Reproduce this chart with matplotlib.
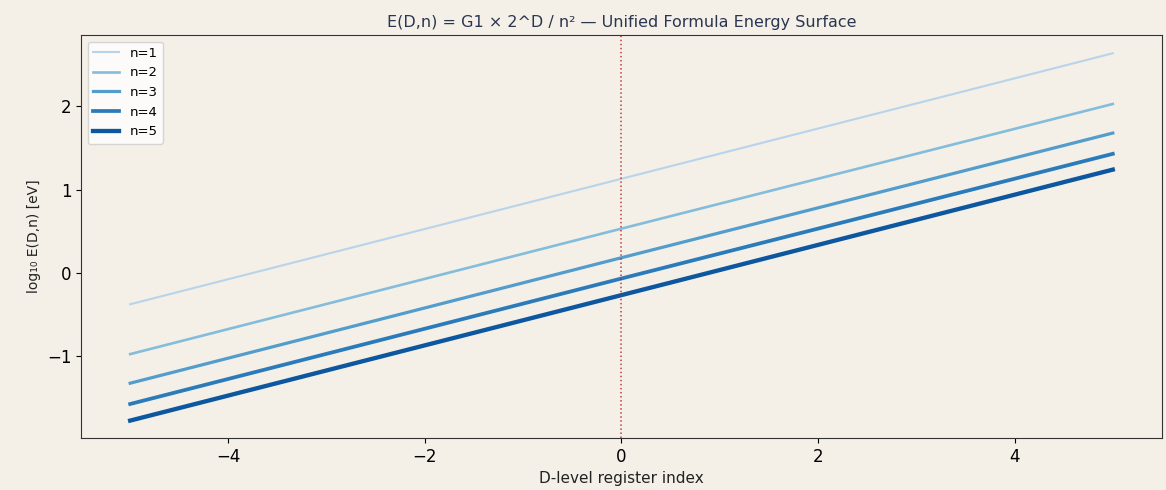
import matplotlib
matplotlib.use("Agg")
import matplotlib.pyplot as plt
import numpy as np

# values (log10 E at D = -5, 0, 5)
d_levels = [-5, 0, 5]
n_labels = ["n=1", "n=2", "n=3", "n=4", "n=5"]
log_e = [
    [-0.38, 1.13, 2.64],
    [-0.98, 0.53, 2.03],
    [-1.33, 0.18, 1.68],
    [-1.58, -0.07, 1.43],
    [-1.78, -0.27, 1.24],
]

bg = "#f4f0e8"
fig = plt.figure(figsize=(11.66, 4.9), dpi=100, facecolor=bg)
ax = fig.add_axes([0.0695, 0.106, 0.927, 0.8226])
ax.set_facecolor(bg)

cmap = plt.get_cmap("Blues")
shades = np.linspace(0.3, 0.85, len(n_labels))
for i, (lab, vals) in enumerate(zip(n_labels, log_e)):
    ax.plot(d_levels, vals, color=cmap(shades[i]), lw=1.5 + 0.4 * i, label=lab)

# D = 0 marker
ax.axvline(0, color="#b22222", lw=1.1, ls=":", alpha=0.85)

ax.set_ylim(-1.99, 2.86)
ax.set_xlabel("D-level register index", fontsize=11, color="#222222")
ax.set_ylabel("log₁₀ E(D,n) [eV]", fontsize=10, color="#222222")
ax.set_title("E(D,n) = G1 × 2^D / n² — Unified Formula Energy Surface",
             fontsize=11.5, color="#2a3550")
ax.tick_params(labelsize=12)
for s in ax.spines.values():
    s.set_color("#333333")

ax.legend(loc="upper left", fontsize=9.5, facecolor="white", framealpha=0.8)

fig.savefig("out.png", dpi=100, facecolor=bg)
